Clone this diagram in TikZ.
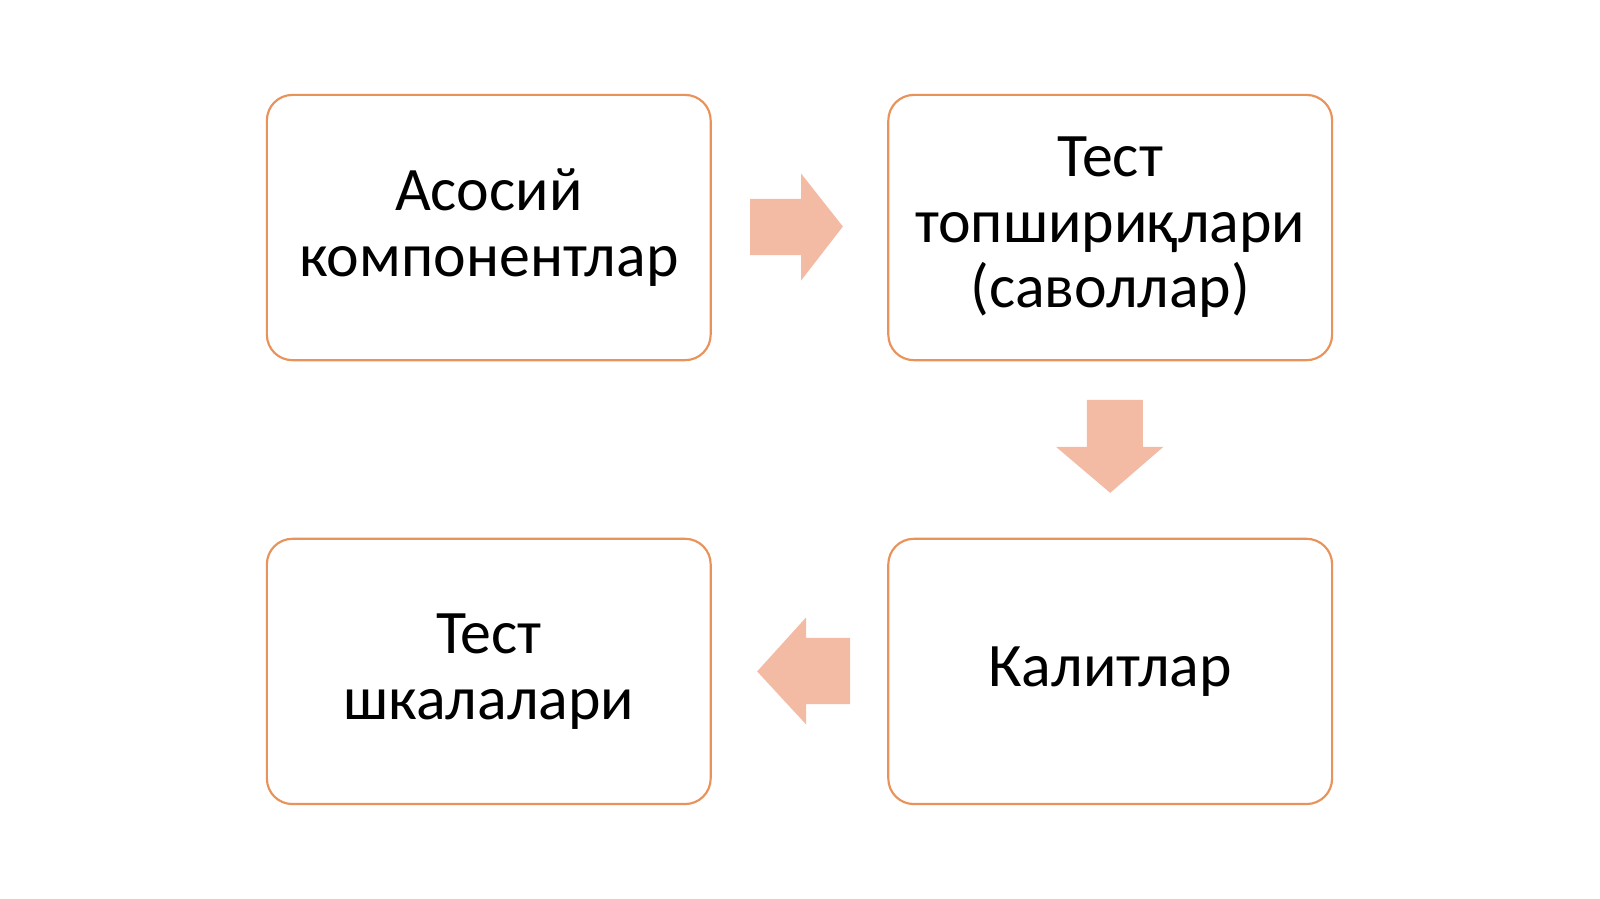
\documentclass[tikz,border=0pt]{standalone}
\usepackage{fontspec}
\setmainfont{Carlito}
\usetikzlibrary{positioning}
\definecolor{boxline}{HTML}{E9925A}
\definecolor{arrowfill}{HTML}{F3BBA3}
\tikzset{
  compbox/.style={draw=boxline,line width=1.2pt,rounded corners=0.5cm,fill=white,
    minimum width=8.7cm,minimum height=5.2cm,align=center,
    font=\fontsize{34.5}{36.5}\selectfont,inner sep=0pt},
  blockarrow/.style={fill=arrowfill,draw=none}
}
\begin{document}
\begin{tikzpicture}[x=0.02cm,y=-0.02cm]
\useasboundingbox (0,0) rectangle (1568,881);
\node[compbox] (main) at (479,223) {Асосий\\компонентлар};
\node[compbox] (tasks) at (1088,223) {Тест\\топшириқлари\\(саволлар)};
\node[compbox] (keys) at (1088,658) {Калитлар};
\node[compbox] (scales) at (479,658) {Тест\\шкалалари};
% block arrows between the boxes
\fill[blockarrow] (735,195) -- (785,195) -- (785,170) -- (826,222) -- (785,275) -- (785,250) -- (735,250) -- cycle;
\fill[blockarrow] (1065,392) -- (1120,392) -- (1120,438) -- (1140,438) -- (1088,483) -- (1035,438) -- (1065,438) -- cycle;
\fill[blockarrow] (833,625) -- (790,625) -- (790,605) -- (742,658) -- (790,710) -- (790,690) -- (833,690) -- cycle;
\end{tikzpicture}
\end{document}
